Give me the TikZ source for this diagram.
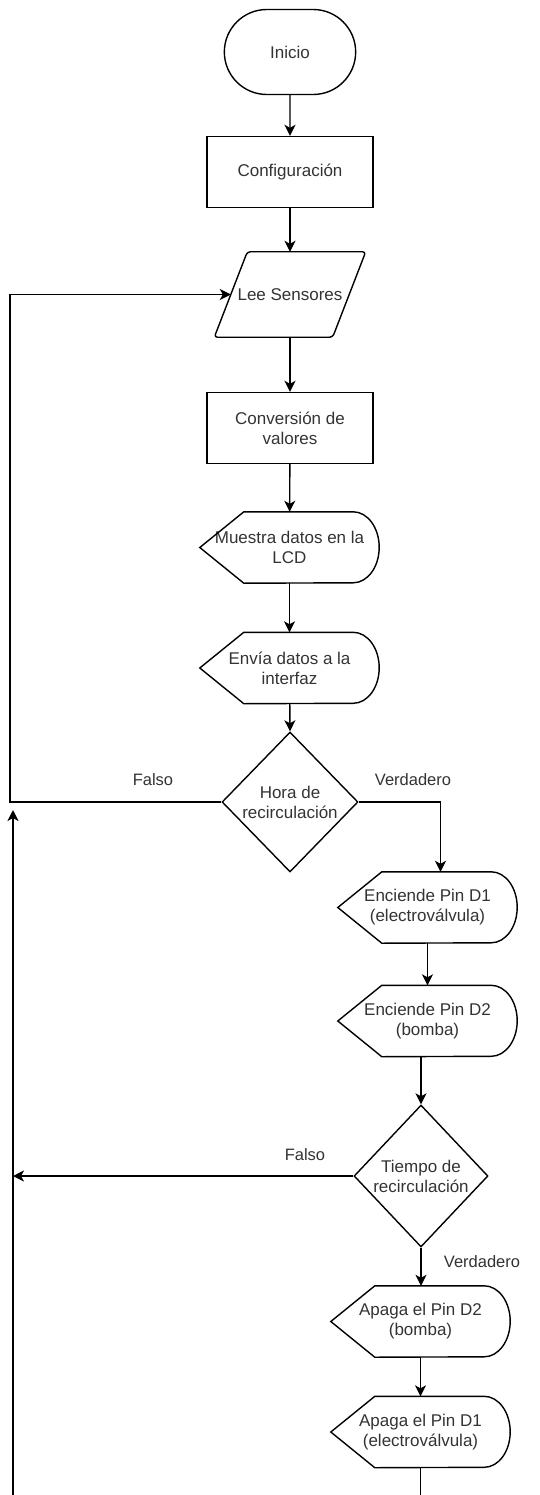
\documentclass[tikz,border=0pt]{standalone}
\usepackage{fontspec}
\setmainfont{Liberation Sans}
\usetikzlibrary{shapes.geometric,shapes.misc,arrows.meta}

\tikzset{
  linea/.style={line width=1.4pt},
  flecha/.style={linea,-{Stealth[length=11pt,width=11pt,inset=3pt]}},
  terminal/.style={rounded rectangle, draw, linea, minimum width=138pt, minimum height=85pt},
  proceso/.style={rectangle, draw, linea, minimum width=166pt, minimum height=71pt, align=center},
  entrada/.style={minimum width=151pt, minimum height=85pt, inner sep=0pt},
  pantalla/.style={minimum width=179pt, minimum height=71pt, align=center, inner sep=0pt},
  decision/.style={diamond, draw, linea, align=center, inner sep=0pt},
  etiqueta/.style={font=\fontsize{16.5}{19}\selectfont}
}

\begin{document}
\begin{tikzpicture}[x=1pt,y=-1pt,font=\fontsize{17}{20}\selectfont,text=black!80]
	\useasboundingbox (0,0) rectangle (539,1495);
	% bloques
	\node[terminal] (inicio) at (290,52) {Inicio};
	\node[proceso] (config) at (290,172) {Configuración};
	\node[entrada] (lee) at (290,294.5) {Lee Sensores};
	\node[proceso] (conv) at (290,428) {Conversión de\\valores};
	\node[pantalla] (muestra) at (289.5,547.5) {Muestra datos en la\\LCD};
	\node[pantalla] (envia) at (289.5,668) {Envía datos a la\\interfaz};
	\node[decision, minimum width=136pt, minimum height=140pt] (hora) at (290,802) {Hora de\\recirculación};
	\node[pantalla] (encD1) at (427.5,907.5) {Enciende Pin D1\\(electroválvula)};
	\node[pantalla] (encD2) at (427.5,1021) {Enciende Pin D2\\(bomba)};
	\node[decision, minimum width=134pt, minimum height=142pt] (tiempo) at (421,1176) {Tiempo de\\recirculación};
	\node[pantalla] (apaD2) at (420.5,1321.5) {Apaga el Pin D2\\(bomba)};
	\node[pantalla] (apaD1) at (420.5,1432) {Apaga el Pin D1\\(electroválvula)};
	% contorno de entrada
	\draw[linea, rounded corners=3pt] (lee.south west) -- ([xshift=33pt]lee.north west) -- (lee.north east)
		-- ([xshift=-33pt]lee.south east) -- cycle;
	\coordinate (leeIzq) at ([xshift=16.5pt]lee.west);
	% contorno de pantalla
	\foreach \n in {muestra,envia,encD1,encD2,apaD2,apaD1}
		\draw[linea] (\n.west) -- ([xshift=44pt]\n.north west) -- ([xshift=-26pt]\n.north east)
			arc[start angle=90, end angle=-90, x radius=26pt, y radius=35.5pt]
			-- ([xshift=44pt]\n.south west) -- cycle;
	% puntos libres
	\coordinate (vueltaA) at (10,802);
	\coordinate (vueltaB) at (13,1176);
	\coordinate (baseA) at (13,1495);
	\coordinate (topeA) at (13,810);
	\coordinate (finA) at (420.5,1495);
	% conectores
	\draw[flecha] (inicio) -- (config);
	\draw[flecha] (config) -- (lee);
	\draw[flecha] (lee) -- (conv);
	\draw[flecha] (conv) -- (muestra);
	\draw[flecha] (muestra) -- (envia);
	\draw[flecha] (envia) -- (hora.north);
	\draw[flecha] (hora.east) -| ([xshift=13pt]encD1.north);
	\draw[flecha] (hora.west) -- (vueltaA) |- (leeIzq);
	\draw[flecha] (encD1) -- (encD2);
	\draw[flecha] (encD2.south -| tiempo.north) -- (tiempo.north);
	\draw[flecha] (tiempo.west) -- (vueltaB);
	\draw[flecha] (tiempo.south) -- (tiempo.south |- apaD2.north);
	\draw[flecha] (apaD2) -- (apaD1);
	\draw[linea] (apaD1.south) -- (finA);
	\draw[flecha] (baseA) -- (topeA);
	% etiquetas
	\node[etiqueta] (falsoA) at (153,780) {Falso};
	\node[etiqueta] (verdA) at (413,780) {Verdadero};
	\node[etiqueta] (falsoB) at (305,1155) {Falso};
	\node[etiqueta] (verdB) at (482,1262) {Verdadero};
\end{tikzpicture}
\end{document}
